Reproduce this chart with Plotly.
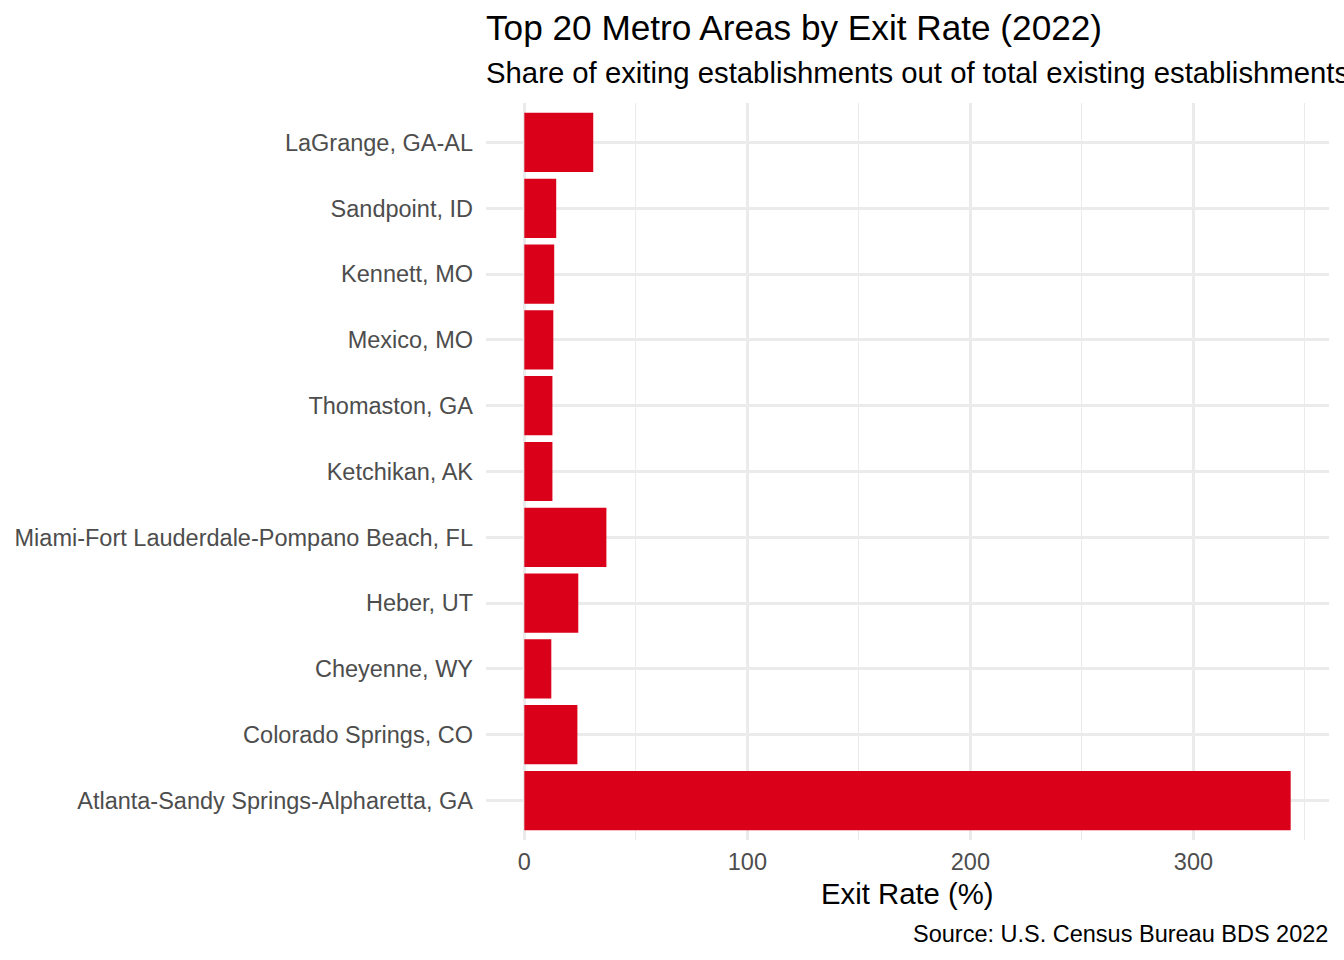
import plotly.graph_objects as go

metros = [
    "LaGrange, GA-AL",
    "Sandpoint, ID",
    "Kennett, MO",
    "Mexico, MO",
    "Thomaston, GA",
    "Ketchikan, AK",
    "Miami-Fort Lauderdale-Pompano Beach, FL",
    "Heber, UT",
    "Cheyenne, WY",
    "Colorado Springs, CO",
    "Atlanta-Sandy Springs-Alpharetta, GA",
]
exit_rate = [30.9, 14.3, 13.4, 13.0, 12.6, 12.6, 36.8, 24.2, 12.1, 23.8, 343.6]

x_ticks = [0, 100, 200, 300]

title_text = "Top 20 Metro Areas by Exit Rate (2022)"
subtitle_text = "Share of exiting establishments out of total existing establishments"
x_title = "Exit Rate (%)"
caption_text = "Source: U.S. Census Bureau BDS 2022"

W, H = 1344, 960
ML, MR, MT, MB = 486, 15, 103, 120
PW, PH = W - ML - MR, H - MT - MB

def px(xp):
    return (xp - ML) / PW

def py(yp):
    return (H - MB - yp) / PH

FONT = "Liberation Sans, Arial, sans-serif"
GRID = "#EBEBEB"

fig = go.Figure(
    go.Bar(
        x=exit_rate,
        y=metros,
        orientation="h",
        width=0.9,
        marker=dict(color="#DA0019", line=dict(width=0)),
        hoverinfo="x+y",
    )
)

xmax = max(exit_rate)
pad = 0.05 * xmax

fig.update_layout(
    width=W,
    height=H,
    margin=dict(l=ML, r=MR, t=MT, b=MB, pad=0),
    paper_bgcolor="white",
    plot_bgcolor="white",
    showlegend=False,
    font=dict(family=FONT, color="#4D4D4D", size=23.5),
    xaxis=dict(
        range=[-pad, xmax + pad],
        tickvals=x_ticks,
        ticktext=[str(v) for v in x_ticks],
        showgrid=True,
        gridcolor=GRID,
        gridwidth=2.8,
        zeroline=False,
        showline=False,
        ticks="",
        ticklabelstandoff=5,
        tickfont=dict(family=FONT, size=23.5, color="#4D4D4D"),
        minor=dict(dtick=50, tick0=0, showgrid=True, gridcolor=GRID, gridwidth=1.4),
    ),
    yaxis=dict(
        type="category",
        categoryorder="array",
        categoryarray=metros,
        range=[len(metros) - 0.4, -0.6],
        showgrid=True,
        gridcolor=GRID,
        gridwidth=2.8,
        zeroline=False,
        showline=False,
        ticks="",
        ticklabelstandoff=12,
        tickfont=dict(family=FONT, size=23.5, color="#4D4D4D"),
    ),
    annotations=[
        dict(text=title_text, xref="paper", yref="paper", x=px(484), y=py(28),
             xanchor="left", yanchor="middle", showarrow=False,
             font=dict(family=FONT, size=35.2, color="black")),
        dict(text=subtitle_text, xref="paper", yref="paper", x=px(484), y=py(73),
             xanchor="left", yanchor="middle", showarrow=False,
             font=dict(family=FONT, size=29.3, color="black")),
        dict(text=x_title, xref="paper", yref="paper", x=0.5, y=py(893),
             xanchor="center", yanchor="middle", showarrow=False,
             font=dict(family=FONT, size=29.3, color="black")),
        dict(text=caption_text, xref="paper", yref="paper", x=px(1330), y=py(934),
             xanchor="right", yanchor="middle", showarrow=False,
             font=dict(family=FONT, size=23.5, color="black")),
    ],
)

fig.write_html("out.html")
